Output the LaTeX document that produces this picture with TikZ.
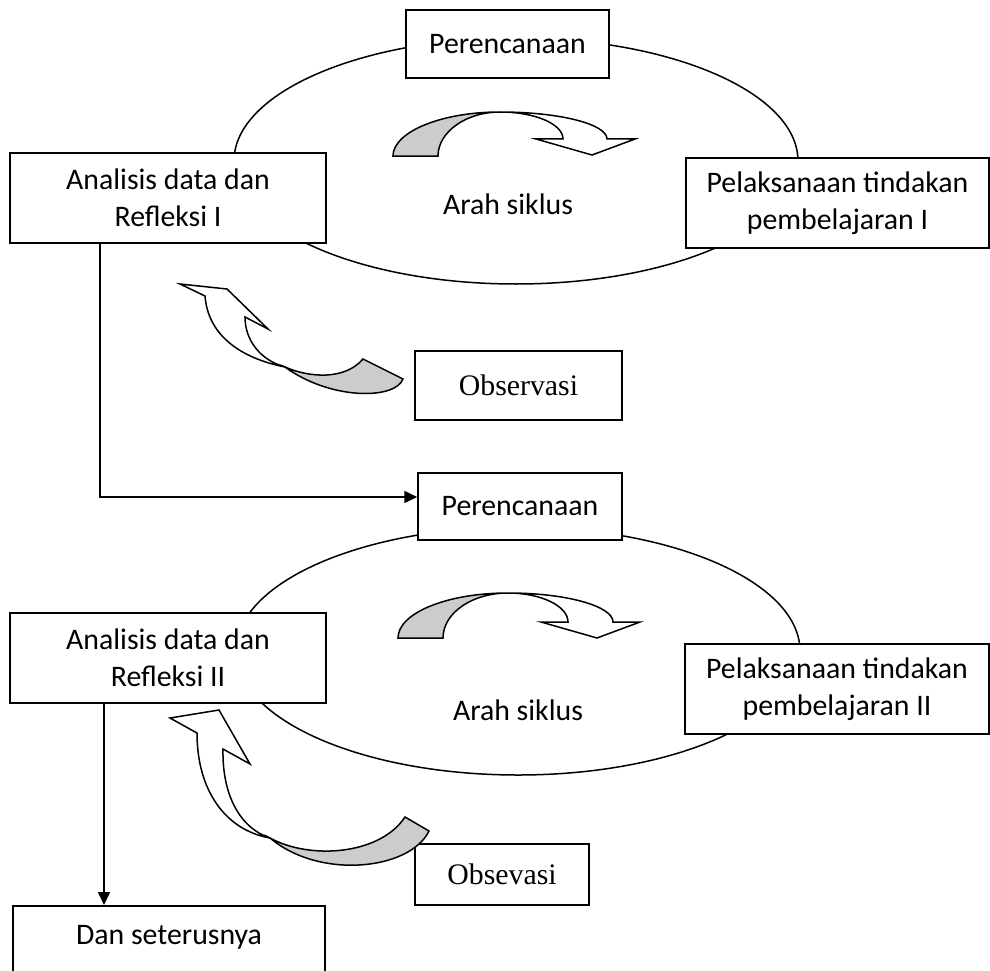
\documentclass[tikz,border=0pt]{standalone}
\usepackage{fontspec}
\setmainfont{Carlito}
\newfontfamily\tnr{Liberation Serif}
\usetikzlibrary{arrows.meta}
\definecolor{ribgray}{RGB}{204,204,204}
\newcommand\myfs{\fontsize{29.8pt}{37pt}\selectfont}
\begin{document}
\begin{tikzpicture}[x=1pt, y=-1pt,
  box/.style={draw, line width=1.5pt, fill=white, inner sep=0pt, align=center, font=\myfs},
  serifbox/.style={box, font=\tnr\myfs},
  ring/.style={draw, line width=1.5pt},
  ribback/.style={draw, line width=1.5pt, fill=ribgray, line join=miter},
  ribfront/.style={draw, line width=1.5pt, fill=white, line join=miter},
  conn/.style={draw, line width=1.6pt, line join=miter, -{Triangle[length=13pt, width=12pt]}}
]
\useasboundingbox (0,0) rectangle (990,971);
\clip (0,0) rectangle (990,971);

% cycle ellipses
\draw[ring] (516,161) ellipse [x radius=282pt, y radius=123pt];
\draw[ring] (518,651) ellipse [x radius=282pt, y radius=124pt];

% boxes, cycle I
\node[box, minimum width=203pt, minimum height=68pt] (per1) at (507.5,44) {Perencanaan};
\node[box, minimum width=316pt, minimum height=90pt] (ana1) at (168,198) {Analisis data dan\\Refleksi I};
\node[box, minimum width=303pt, minimum height=90pt] (pel1) at (837.5,203) {Pelaksanaan tindakan\\pembelajaran I};
\node[serifbox, minimum width=207pt, minimum height=69pt] (obs1) at (518.5,385.5) {Observasi};
\node[font=\myfs] (arah1) at (508,204) {Arah siklus};

% boxes, cycle II
\node[box, minimum width=204pt, minimum height=67pt] (per2) at (520,506.5) {Perencanaan};
\node[box, minimum width=316pt, minimum height=90pt] (ana2) at (168,658) {Analisis data dan\\Refleksi II};
\node[box, minimum width=304pt, minimum height=90pt] (pel2) at (837,689) {Pelaksanaan tindakan\\pembelajaran II};
\node[serifbox, minimum width=174pt, minimum height=61pt] (obs2) at (502,874.5) {Obsevasi};
\node[font=\myfs] (arah2) at (518,710) {Arah siklus};
\node[box, minimum width=312pt, text height=39pt, text depth=36pt, anchor=north] (dan) at (169,905) {Dan seterusnya};

% connectors
\coordinate (k1) at (100,497);
\draw[conn] (ana1.south -| k1) -- (k1) -- (k1 -| per2.west);
\coordinate (k2) at (104,905);
\draw[conn] (ana2.south -| k2) -- (dan.north -| k2);

% curved cycle arrow I
\begin{scope}[shift={(500,112)}]
  \path[ribback] (-107,44) .. controls (-107,20) and (-59,0) .. (0,0)
      .. controls (-34,0) and (-62,20) .. (-62,44) -- cycle;
  \path[ribfront] (0,0) .. controls (59,0) and (107,12) .. (107,27) -- (135,27) -- (92,43)
      -- (36,27) -- (63,27) .. controls (63,12) and (35,0) .. (0,0) -- cycle;
\end{scope}

% curved cycle arrow II
\begin{scope}[shift={(508,593)}]
  \path[ribback] (-110,45) .. controls (-110,20) and (-61,0) .. (0,0)
      .. controls (-36,0) and (-65,20) .. (-65,45) -- cycle;
  \path[ribfront] (0,0) .. controls (58,0) and (105,13) .. (105,29) -- (132,29) -- (89,45)
      -- (33,29) -- (60,29) .. controls (60,13) and (33,0) .. (0,0) -- cycle;
\end{scope}

% observation arrow I
\path[ribfront] (205,296) .. controls (208,335) and (240,358) .. (285,367)
    .. controls (260,360) and (245,340) .. (245,317)
    -- (268,329) -- (227,289) -- (180,284) -- cycle;
\path[ribback] (285,367) .. controls (310,378) and (345,380) .. (363,359)
    -- (403,379) .. controls (395,400) and (330,400) .. (285,367) -- cycle;

% observation arrow II
\path[ribfront] (197,733) .. controls (197,790) and (225,830) .. (270,838)
    .. controls (240,828) and (222,795) .. (223,749)
    -- (250,764) -- (219,710) -- (170,718) -- cycle;
\path[ribback] (270,838) .. controls (310,860) and (380,855) .. (405,817)
    -- (429,831) .. controls (410,870) and (320,880) .. (270,838) -- cycle;
\end{tikzpicture}
\end{document}
